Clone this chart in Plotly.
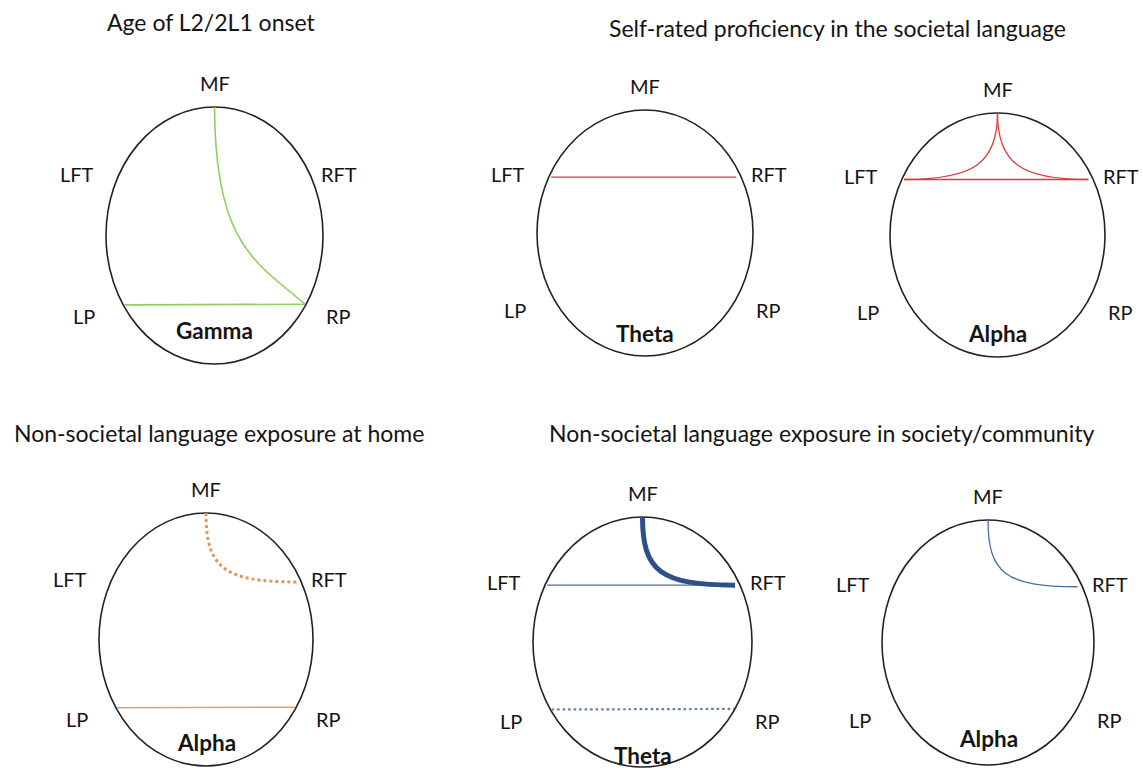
import plotly.graph_objects as go

# ---------------- data ----------------
titles = [
    "Age of L2/2L1 onset",
    "Self-rated proficiency in the societal language",
    "Non-societal language exposure at home",
    "Non-societal language exposure in society/community",
]
electrodes = ["MF", "LFT", "RFT", "LP", "RP"]
head_bands = ["Gamma", "Theta", "Alpha", "Alpha", "Theta", "Alpha"]

# connectivity links: head index, electrode pair, link type, style key
conn_head = [0, 0, 1, 2, 2, 2, 3, 3, 4, 4, 4, 5]
conn_from = ["MF", "LP", "LFT", "LFT", "MF", "MF", "MF", "LP", "MF", "LFT", "LP", "MF"]
conn_to = ["RP", "RP", "RFT", "RFT", "LFT", "RFT", "RFT", "RP", "RFT", "RFT", "RP", "RFT"]
conn_kind = ["curve", "line", "line", "line", "curve", "curve",
             "curve", "line", "curve", "line", "line", "curve"]
conn_style = ["green", "green", "red", "red", "red", "red",
              "orange_dot", "orange", "blue_thick", "blue_thin", "blue_dot", "blue_thin"]

# ---------------- layout / styling ----------------
W, H = 1143, 780
FONT = "Lato, 'Open Sans', sans-serif"
FS_LABEL = 20
FS_BAND = 22.5
FS_TITLE = 23
TXT = "#141414"

head_cx = [214.5, 645.0, 997.5, 206.0, 642.5, 988.0]
head_cy = [235.5, 233.0, 235.0, 639.5, 642.0, 642.5]
head_rx = [108.5, 108.0, 107.5, 107.0, 109.5, 106.0]
head_ry = [128.5, 123.0, 122.0, 126.5, 125.0, 122.5]
band_label_y = [330, 333, 333, 742, 755, 738]

title_x = [211, 837, 12, 547]
title_y = [22, 28, 433, 433]
title_anchor = ["center", "center", "left", "left"]

# electrode positions on a unit head (x right, y down)
pos = {
    "MF": (0.0, -1.0),
    "LFT": (-0.87, -0.455),
    "RFT": (0.845, -0.455),
    "LP": (-0.83, 0.54),
    "RP": (0.835, 0.535),
}

styles = {
    "green": dict(color="#8fcf5f", width=1.6),
    "red": dict(color="#dc3b3b", width=1.3),
    "orange": dict(color="#e8a064", width=1.5),
    "orange_dot": dict(color="#e0955a", width=3, dash="3px,3px"),
    "blue_thick": dict(color="#2f4f8a", width=5),
    "blue_thin": dict(color="#4a6fa5", width=1.3),
    "blue_dot": dict(color="#5b7db8", width=2.2, dash="2.5px,3px"),
}


def to_px(h, u, v):
    return head_cx[h] + u * head_rx[h], head_cy[h] + v * head_ry[h]


fig = go.Figure()
shapes = []
annotations = []

# head outlines
for h in range(len(head_cx)):
    shapes.append(dict(
        type="circle", xref="x", yref="y",
        x0=head_cx[h] - head_rx[h], x1=head_cx[h] + head_rx[h],
        y0=head_cy[h] - head_ry[h], y1=head_cy[h] + head_ry[h],
        line=dict(color="#222222", width=1.6), layer="above",
    ))

# links
for h, a, b, kind, st in zip(conn_head, conn_from, conn_to, conn_kind, conn_style):
    x0, y0 = to_px(h, *pos[a])
    x3, y3 = to_px(h, *pos[b])
    line = styles[st]
    if kind == "line":
        fig.add_trace(go.Scatter(x=[x0, x3], y=[y0, y3], mode="lines",
                                 line=line, hoverinfo="skip", showlegend=False))
    else:
        if h == 0:
            # long sweep from the midline down to the posterior site
            x1, y1 = to_px(h, 0.005, 0.074)
            x2, y2 = to_px(h, 0.38, 0.206)
        else:
            f = 0.75 if h == 2 else 0.8
            cxr, cyr = x0, y3  # elbow corner of the link
            x1, y1 = x0 + f * (cxr - x0), y0 + f * (cyr - y0)
            x2, y2 = x3 + f * (cxr - x3), y3 + f * (cyr - y3)
        path = f"M {x0},{y0} C {x1},{y1} {x2},{y2} {x3},{y3}"
        shapes.append(dict(type="path", xref="x", yref="y", path=path,
                           line=dict(color=line["color"], width=line["width"],
                                     dash=line.get("dash", "solid")),
                           layer="above"))

# electrode labels
for h in range(len(head_cx)):
    cx, cy, rx, ry = head_cx[h], head_cy[h], head_rx[h], head_ry[h]
    lab = {
        "MF": (cx, cy - ry - 24, "center"),
        "LFT": (cx - rx - 10, cy - 0.48 * ry, "right"),
        "RFT": (cx + rx - 4, cy - 0.48 * ry, "left"),
        "LP": (cx - rx - 9, cy + 0.63 * ry, "right"),
        "RP": (cx + rx + 1, cy + 0.63 * ry, "left"),
    }
    for name in electrodes:
        x, y, xa = lab[name]
        annotations.append(dict(x=x, y=y, xref="x", yref="y", text=name,
                                showarrow=False, xanchor=xa, yanchor="middle",
                                font=dict(family=FONT, size=FS_LABEL, color=TXT)))
    annotations.append(dict(x=cx, y=band_label_y[h], xref="x", yref="y",
                            text=f"<b>{head_bands[h]}</b>", showarrow=False,
                            xanchor="center", yanchor="middle",
                            font=dict(family=FONT, size=FS_BAND, color=TXT)))

# panel titles
for t, x, y, xa in zip(titles, title_x, title_y, title_anchor):
    annotations.append(dict(x=x, y=y, xref="x", yref="y", text=t, showarrow=False,
                            xanchor=xa, yanchor="middle",
                            font=dict(family=FONT, size=FS_TITLE, color=TXT)))

fig.update_layout(
    width=W, height=H,
    margin=dict(l=0, r=0, t=0, b=0),
    paper_bgcolor="white", plot_bgcolor="white",
    xaxis=dict(range=[0, W], visible=False, fixedrange=True),
    yaxis=dict(range=[H, 0], visible=False, fixedrange=True),
    shapes=shapes, annotations=annotations,
    showlegend=False,
)

fig.write_html("out.html", config={"displayModeBar": False})
